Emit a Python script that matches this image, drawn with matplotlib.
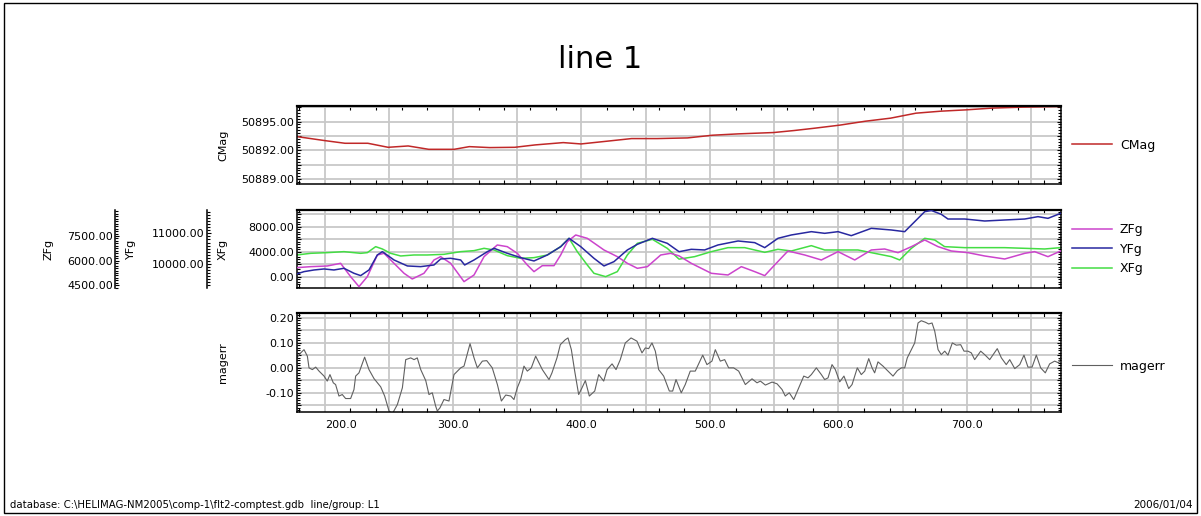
import numpy as np
import matplotlib
matplotlib.use("Agg")
import matplotlib.pyplot as plt
from matplotlib.ticker import MultipleLocator, FixedLocator, FuncFormatter
from matplotlib.patches import Rectangle

# ---------------- data ----------------
cmag_x = [178.2, 200, 215.8, 233.6, 249.4, 265, 281, 300.8, 312.6, 328.5, 348, 364, 385.8,
          399.6, 419.4, 439, 459, 482.6, 502, 522, 549.6, 565.6, 581.4, 601, 621, 640.7,
          660.5, 680, 700, 719.8, 743.5, 773.2]
cmag_v = [50893.43, 50893.01, 50892.73, 50892.73, 50892.31, 50892.45, 50892.1, 50892.1,
          50892.38, 50892.28, 50892.31, 50892.56, 50892.8, 50892.66, 50892.94, 50893.22,
          50893.22, 50893.29, 50893.57, 50893.71, 50893.85, 50894.06, 50894.3, 50894.62,
          50895.03, 50895.35, 50895.87, 50896.08, 50896.22, 50896.4, 50896.5, 50896.57]

xfg_x = [178.2, 189.1, 202.0, 215.0, 228.0, 233.2, 239.7, 244.9, 251.4, 259.2,
         269.5, 279.9, 292.9, 305.9, 316.3, 324.1, 331.9, 342.2, 352.6, 363.0,
         373.4, 383.8, 390.3, 396.7, 404.5, 409.7, 418.8, 427.9, 435.7, 443.5,
         455.2, 466.8, 476.0, 488.1, 501.1, 514.1, 527.1, 542.7, 553.0, 563.4,
         579.0, 589.4, 605.0, 615.3, 628.3, 641.3, 647.8, 656.9, 667.3, 675.1,
         682.8, 698.4, 714.0, 729.6, 745.2, 760.7, 773.2]
xfg_v = [3467, 3733, 3840, 4000, 3733, 3840, 4800, 4427, 3733, 3307,
         3467, 3467, 3573, 4000, 4160, 4533, 4267, 3360, 2933, 3040,
         3467, 4800, 6133, 4000, 1867, 533, 0, 800, 3467, 5333,
         5973, 4533, 2800, 3200, 4000, 4640, 4640, 3893, 4373, 4107,
         4960, 4267, 4267, 4267, 3733, 3200, 2667, 4533, 6133, 5867,
         4800, 4640, 4640, 4640, 4533, 4427, 4640]

yfg_x = [178.2, 183.9, 191.7, 199.5, 207.2, 215.0, 222.8, 228.0, 234.5, 241.0, 244.9,
         254.0, 264.4, 274.7, 285.1, 290.3, 298.1, 305.9, 309.0, 316.3, 326.7, 331.9,
         342.2, 352.6, 363.0, 373.4, 383.8, 390.3, 399.4, 409.7, 417.5, 425.3, 435.7,
         443.5, 455.2, 466.8, 476.0, 485.5, 495.9, 506.3, 521.9, 534.9, 542.7, 553.0,
         563.4, 579.0, 589.4, 599.8, 610.1, 625.7, 641.3, 651.7, 659.5, 667.3, 672.5,
         680.2, 685.4, 698.4, 714.0, 729.6, 745.2, 755.5, 763.3, 773.2]
yfg_v = [9674, 9750, 9804, 9837, 9804, 9859, 9696, 9620, 9804, 10293, 10402,
         10130, 9935, 9913, 9967, 10163, 10185, 10130, 9967, 10130, 10402, 10511,
         10348, 10207, 10098, 10293, 10565, 10837, 10565, 10185, 9935, 10076, 10457,
         10641, 10837, 10674, 10400, 10478, 10457, 10620, 10750, 10696, 10533, 10837,
         10946, 11054, 11000, 11054, 10924, 11163, 11109, 11054, 11380, 11707, 11745,
         11620, 11467, 11467, 11402, 11435, 11467, 11544, 11489, 11652]

zfg_x = [178.2, 189.1, 202.0, 212.4, 220.2, 226.7, 233.2, 241.0, 246.2, 254.0, 261.8,
         268.2, 277.3, 285.1, 290.3, 298.1, 308.5, 316.3, 324.1, 334.4, 342.2, 350.0,
         357.8, 363.0, 369.5, 378.6, 383.8, 389.0, 395.5, 404.5, 417.5, 427.9, 435.7,
         443.5, 451.3, 461.7, 469.4, 476.0, 485.5, 501.1, 514.1, 524.5, 534.9, 542.7,
         550.4, 560.8, 573.8, 586.8, 599.8, 612.8, 625.7, 636.1, 646.5, 656.9, 667.3,
         677.7, 688.0, 701.0, 714.0, 729.6, 745.2, 752.9, 763.3, 773.2]
zfg_v = [5574, 5635, 5676, 5838, 5027, 4420, 5027, 6345, 6446, 5838, 5230,
         4885, 5230, 6041, 6243, 5838, 4723, 5128, 6243, 6953, 6851, 6446,
         5736, 5331, 5696, 5696, 6345, 7155, 7561, 7358, 6649, 6243, 5838,
         5534, 5635, 6345, 6446, 6290, 5838, 5230, 5128, 5635, 5331, 5088,
         5736, 6588, 6345, 6041, 6547, 6041, 6649, 6709, 6486, 6851, 7257,
         6851, 6588, 6486, 6284, 6101, 6446, 6547, 6243, 6588]

magerr_x = [178.2, 181.3, 183.9, 186.5, 187.8, 190.4, 193.0, 195.6, 199.5, 202.0, 204.1,
            206.7, 208.5, 211.1, 213.7, 216.3, 220.2, 222.8, 224.1, 226.7, 231.1, 234.5,
            238.4, 243.6, 246.7, 250.1, 252.7, 256.6, 260.5, 263.1, 267.0, 269.6, 272.1,
            274.8, 278.7, 281.2, 283.8, 286.4, 287.7, 289.8, 292.9, 296.8, 300.7, 305.9,
            308.5, 311.1, 313.2, 316.3, 318.9, 322.8, 326.2, 330.5, 334.5, 337.6, 341.0,
            344.9, 347.4, 350.0, 352.6, 355.2, 357.8, 360.9, 364.3, 369.5, 374.7,
            377.0, 380.9, 383.5, 387.4, 389.5, 392.1, 394.7, 397.8, 400.4, 403.0, 406.1,
            410.3, 413.4, 417.3, 419.9, 423.8, 426.9, 430.2, 434.1, 438.6, 443.2, 447.1,
            449.7, 452.3, 454.9, 457.5, 460.1, 464.0, 468.4, 471.0, 473.6, 477.7, 480.8,
            484.7, 488.6, 494.4, 497.7, 501.6, 504.2, 508.1, 511.5, 514.6, 518.5, 522.4,
            527.6, 532.8, 536.7, 539.3, 543.2, 548.4, 552.3, 556.2, 558.7, 561.8, 565.3,
            569.2, 573.1, 576.4,
            579.0, 582.9, 586.8, 589.4, 592.0, 595.1, 597.7, 601.1, 604.4, 608.1, 610.7,
            614.8, 617.9, 620.6, 623.7, 626.3, 628.3, 630.9, 634.8, 638.7, 642.6, 646.0,
            649.1, 651.7, 653.7, 656.9, 659.5, 662.1, 664.6, 667.8, 670.4, 673.0, 675.1,
            677.7, 680.2, 682.9, 685.4, 688.8, 691.9, 695.3, 697.9, 701.0, 703.6, 706.2,
            710.9, 714.0, 717.9, 723.8, 727.0, 730.8, 733.5, 737.4, 741.3, 744.6, 747.7,
            750.9, 754.2, 757.6, 761.2, 764.6, 768.5, 771.6, 775.0]
magerr_v = [0.040, 0.060, 0.073, 0.047, 0.000, -0.007, 0.003, -0.013, -0.033, -0.053, -0.027,
            -0.060, -0.067, -0.113, -0.107, -0.123, -0.123, -0.087, -0.033, -0.020, 0.043, -0.007,
            -0.043, -0.076, -0.113, -0.173, -0.184, -0.147, -0.080, 0.033, 0.040, 0.033, 0.040,
            -0.007, -0.051, -0.107, -0.100, -0.153, -0.173, -0.160, -0.127, -0.133, -0.027, 0.000,
            0.007, 0.056, 0.097, 0.040, 0.000, 0.027, 0.029, 0.000, -0.067, -0.133, -0.109,
            -0.113, -0.127, -0.080, -0.047, 0.007, -0.013, 0.000, 0.047, -0.007, -0.047,
            -0.020, 0.040, 0.093, 0.113, 0.120, 0.073, -0.013, -0.107, -0.080, -0.051, -0.113,
            -0.093, -0.027, -0.053, -0.007, 0.016, -0.007, 0.033, 0.100, 0.120, 0.107, 0.060,
            0.080, 0.077, 0.100, 0.067, -0.007, -0.033, -0.093, -0.093, -0.047, -0.100, -0.067,
            -0.013, -0.013, 0.051, 0.013, 0.027, 0.073, 0.027, 0.033, 0.000, 0.000, -0.013,
            -0.067, -0.044, -0.060, -0.053, -0.069, -0.057, -0.064, -0.087, -0.113, -0.100, -0.127,
            -0.080, -0.033, -0.040,
            -0.027, 0.000, -0.027, -0.047, -0.040, 0.013, -0.007, -0.056, -0.033, -0.083, -0.067,
            0.000, -0.027, -0.013, 0.037, 0.000, -0.020, 0.024, 0.007, -0.013, -0.033, -0.011,
            0.000, 0.000, 0.040, 0.073, 0.100, 0.180, 0.189, 0.183, 0.176, 0.180, 0.147,
            0.073, 0.053, 0.067, 0.051, 0.100, 0.091, 0.093, 0.067, 0.067, 0.060, 0.033,
            0.067, 0.053, 0.033, 0.077, 0.040, 0.013, 0.033, -0.003, 0.013, 0.051, 0.003,
            0.003, 0.051, 0.000, -0.020, 0.016, 0.027, 0.020, 0.060]

x_grid = [200, 250, 300, 350, 400, 450, 500, 550, 600, 650, 700, 750]
zfg_ticks = [4500, 6000, 7500]
yfg_ticks = [10000, 11000]

title = "line 1"
footer_left = "database: C:\\HELIMAG-NM2005\\comp-1\\flt2-comptest.gdb  line/group: L1"
footer_right = "2006/01/04"

# ---------------- figure ----------------
plt.rcParams['font.family'] = ['DejaVu Sans']
W_PX, H_PX = 1201, 516
fig = plt.figure(figsize=(W_PX / 100, H_PX / 100), dpi=100)

AX_L, AX_R = 296.7, 1060.7
def box(top, bottom):
    return [AX_L / W_PX, 1 - bottom / H_PX, (AX_R - AX_L) / W_PX, (bottom - top) / H_PX]

ax_c = fig.add_axes(box(105.7, 184.3))
ax_m = fig.add_axes(box(210.0, 288.3))
ax_e = fig.add_axes(box(313.0, 411.5))

XMIN, XMAX = 178.2, 773.2
GRID = '#c8c8c8'

def every(step, dec):
    def f(v, pos):
        q = v / step
        if abs(q - round(q)) < 1e-6:
            return f"{v:.{dec}f}"
        return ''
    return FuncFormatter(f)

def style(ax, ylim, gstep, lstep, ymin_step):
    ax.set_xlim(XMIN, XMAX)
    ax.set_ylim(*ylim)
    ax.xaxis.set_major_locator(FixedLocator(x_grid))
    ax.xaxis.set_major_formatter(every(100, 1))
    ax.xaxis.set_minor_locator(MultipleLocator(20))
    ax.yaxis.set_major_locator(MultipleLocator(gstep))
    ax.yaxis.set_major_formatter(every(lstep, 2))
    ax.yaxis.set_minor_locator(MultipleLocator(ymin_step))
    ax.grid(True, which='major', color=GRID, lw=1.3)
    ax.set_axisbelow(True)
    ax.tick_params(axis='x', which='major', length=0, labelbottom=False, labelsize=8, pad=6)
    ax.tick_params(axis='x', which='minor', direction='in', length=3, top=True, bottom=True, width=0.8)
    ax.tick_params(axis='y', which='both', direction='in', left=True, right=True, width=0.8)
    ax.tick_params(axis='y', which='major', length=3, labelsize=8, pad=2)
    ax.tick_params(axis='y', which='minor', length=2)
    for s in ax.spines.values():
        s.set_linewidth(1.1)
    ax.spines['top'].set_linewidth(1.6)

def label_x(px):
    return (px - AX_L) / (AX_R - AX_L)

# CMag
lc, = ax_c.plot(cmag_x, cmag_v, color='#c02828', lw=1.1)
style(ax_c, (50888.45, 50896.65), 1.5, 3, 0.3)
ax_c.set_ylabel('CMag', fontsize=8)
ax_c.yaxis.set_label_coords(label_x(228), 0.5)
ax_c.legend([lc], ['CMag'], loc='center left', bbox_to_anchor=(1 + 11 / 764, 0.5),
            frameon=False, borderpad=0, borderaxespad=0, handlelength=3.2,
            handletextpad=0.65, fontsize=9)

# middle panel with three y axes
ax_z = ax_m.twinx()
ax_y = ax_m.twinx()
lx, = ax_m.plot(xfg_x, xfg_v, color='#44dd44', lw=1.1)
ly, = ax_y.plot(yfg_x, yfg_v, color='#2828a0', lw=1.1)
lz, = ax_z.plot(zfg_x, zfg_v, color='#cc44cc', lw=1.1)
style(ax_m, (-1867, 10667), 2000, 4000, 400)
ax_m.set_ylabel('XFg', fontsize=8)
ax_m.yaxis.set_label_coords(label_x(228), 0.5)

for tw, off, lim, ticks, minor, name, lab_px in (
        (ax_z, (AX_L - 115.5) * 0.72, (4318, 9081), zfg_ticks, 150, 'ZFg', 53),
        (ax_y, (AX_L - 207.3) * 0.72, (9206, 11761), yfg_ticks, 100, 'YFg', 136)):
    tw.set_xlim(XMIN, XMAX)
    tw.set_ylim(*lim)
    for s in ('right', 'top', 'bottom'):
        tw.spines[s].set_visible(False)
    tw.spines['left'].set_visible(True)
    tw.spines['left'].set_position(('outward', off))
    tw.spines['left'].set_linewidth(1.1)
    tw.yaxis.set_ticks_position('left')
    tw.yaxis.set_label_position('left')
    tw.yaxis.set_major_locator(FixedLocator(ticks))
    tw.yaxis.set_major_formatter(FuncFormatter(lambda v, p: f"{v:.2f}"))
    tw.yaxis.set_minor_locator(MultipleLocator(minor))
    tw.tick_params(axis='y', which='both', direction='in', width=0.8)
    tw.tick_params(axis='y', which='major', length=3, labelsize=8, pad=2)
    tw.tick_params(axis='y', which='minor', length=2)
    tw.set_ylabel(name, fontsize=8)
    tw.yaxis.set_label_coords(label_x(lab_px), 0.5)
ax_m.tick_params(axis='y', which='both', right=True)

ax_m.legend([lz, ly, lx], ['ZFg', 'YFg', 'XFg'], loc='center left',
            bbox_to_anchor=(1 + 11 / 764, 0.5), frameon=False, borderpad=0,
            borderaxespad=0, handlelength=3.2, handletextpad=0.65, labelspacing=0.5,
            fontsize=9)

# magerr
le, = ax_e.plot(magerr_x, magerr_v, color='#606060', lw=0.8)
style(ax_e, (-0.175, 0.22), 0.05, 0.1, 0.01)
ax_e.tick_params(axis='x', which='major', labelbottom=True)
ax_e.set_ylabel('magerr', fontsize=8)
ax_e.yaxis.set_label_coords(label_x(228), 0.5)
ax_e.legend([le], ['magerr'], loc='center left', bbox_to_anchor=(1 + 11 / 764, 0.46),
            frameon=False, borderpad=0, borderaxespad=0, handlelength=3.2,
            handletextpad=0.65, fontsize=9)
lbls = ax_e.get_xticklabels()
for t in lbls:
    if t.get_text() == '200.0':
        t.set_horizontalalignment('left')

# texts and frame
fig.text(0.5, 1 - 68 / H_PX, title, ha='center', va='baseline', fontsize=22)
fig.text(10 / W_PX, 1 - 505 / H_PX, footer_left, ha='left', va='center', fontsize=7.3)
fig.text(1193 / W_PX, 1 - 505 / H_PX, footer_right, ha='right', va='center', fontsize=7.5)
fig.add_artist(Rectangle((4 / W_PX, 3.5 / H_PX), 1193 / W_PX, 509.5 / H_PX,
                         transform=fig.transFigure, fill=False, ec='black', lw=1.0))

fig.savefig('out.png', dpi=100)
